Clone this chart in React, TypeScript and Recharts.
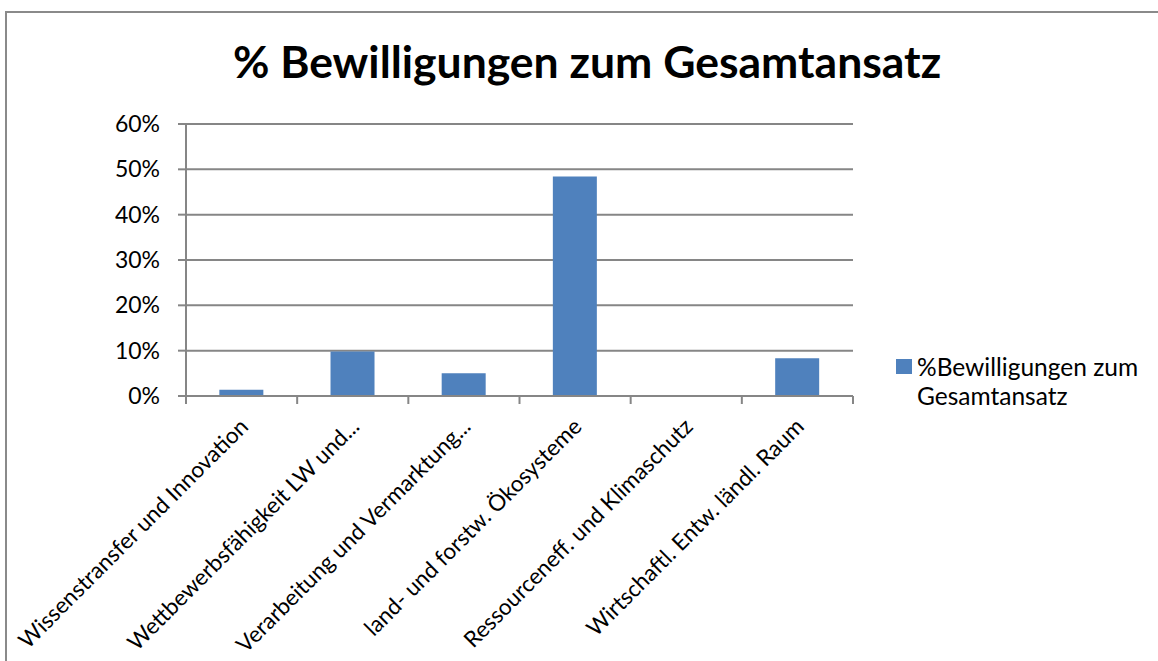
import React from "react";
import { BarChart, Bar, XAxis, YAxis, CartesianGrid } from "recharts";

const categories = [
  "Wissenstransfer und Innovation",
  "Wettbewerbsfähigkeit LW und...",
  "Verarbeitung und Vermarktung...",
  "land- und forstw. Ökosysteme",
  "Ressourceneff. und Klimaschutz",
  "Wirtschaftl. Entw. ländl. Raum",
];
const values = [1.4, 9.8, 5.0, 48.4, 0, 8.3];
const yTicks = [0, 10, 20, 30, 40, 50, 60];
const seriesName = "%Bewilligungen zum Gesamtansatz";
const title = "% Bewilligungen zum Gesamtansatz";

const data = categories.map((name, i) => ({ name, value: values[i] }));

const FONT = "Lato, 'Open Sans', sans-serif";
const GRID = "#868686";
const BAR = "#4F81BD";

const CategoryTick = (props: any) => {
  const { x, y, payload, index, visibleTicksCount } = props;
  const off = payload.offset || 0;
  const isLast = index === visibleTicksCount - 1;
  const tx = x + 8;
  const ty = y + 32;
  return (
    <g>
      <line x1={x - off} y1={y} x2={x - off} y2={y + 8} stroke={GRID} strokeWidth={2} />
      {isLast && (
        <line x1={x + off} y1={y} x2={x + off} y2={y + 8} stroke={GRID} strokeWidth={2} />
      )}
      <text
        x={tx}
        y={ty}
        textAnchor="end"
        transform={`rotate(-45 ${tx} ${ty})`}
        fontSize={22.5}
        fontFamily={FONT}
        fill="#000"
      >
        {payload.value}
      </text>
    </g>
  );
};

export default function App() {
  return (
    <div
      style={{
        position: "absolute",
        left: 0,
        top: 0,
        width: 1158,
        height: 661,
        overflow: "hidden",
        background: "#fff",
        fontFamily: FONT,
      }}
    >
      <div
        style={{
          position: "absolute",
          left: 5,
          top: 11,
          width: 1300,
          height: 800,
          border: "2px solid #8a8a8a",
        }}
      />
      <div
        style={{
          position: "absolute",
          left: 0,
          width: 1174,
          top: 35,
          textAlign: "center",
          fontSize: 44.5,
          fontWeight: 700,
          lineHeight: "52px",
          color: "#000",
        }}
      >
        {title}
      </div>
      <div style={{ position: "absolute", left: 0, top: 0 }}>
        <BarChart
          width={1158}
          height={661}
          data={data}
          margin={{ top: 124, right: 305, left: 106, bottom: 65 }}
          barCategoryGap="30%"
        >
          <CartesianGrid vertical={false} stroke={GRID} strokeWidth={2} />
          <XAxis
            dataKey="name"
            interval={0}
            height={200}
            tickLine={false}
            tickSize={0}
            tickMargin={0}
            axisLine={{ stroke: GRID, strokeWidth: 2 }}
            tick={<CategoryTick />}
          />
          <YAxis
            width={80}
            domain={[0, 60]}
            ticks={yTicks}
            tickFormatter={(v: number) => `${v}%`}
            tickSize={8}
            tickMargin={18}
            tickLine={{ stroke: GRID, strokeWidth: 2 }}
            axisLine={{ stroke: GRID, strokeWidth: 2 }}
            tick={{ fill: "#000", fontSize: 23, fontFamily: FONT }}
          />
          <Bar dataKey="value" name={seriesName} fill={BAR} isAnimationActive={false} />
        </BarChart>
      </div>
      <div
        style={{
          position: "absolute",
          left: 896,
          top: 352,
          width: 260,
          fontSize: 24.5,
          lineHeight: "29px",
          color: "#000",
          display: "flex",
          alignItems: "flex-start",
        }}
      >
        <span
          style={{
            display: "inline-block",
            width: 16,
            height: 15,
            background: BAR,
            marginTop: 7,
            marginRight: 5,
            flex: "0 0 auto",
          }}
        />
        <span style={{ width: 240 }}>{seriesName}</span>
      </div>
    </div>
  );
}
